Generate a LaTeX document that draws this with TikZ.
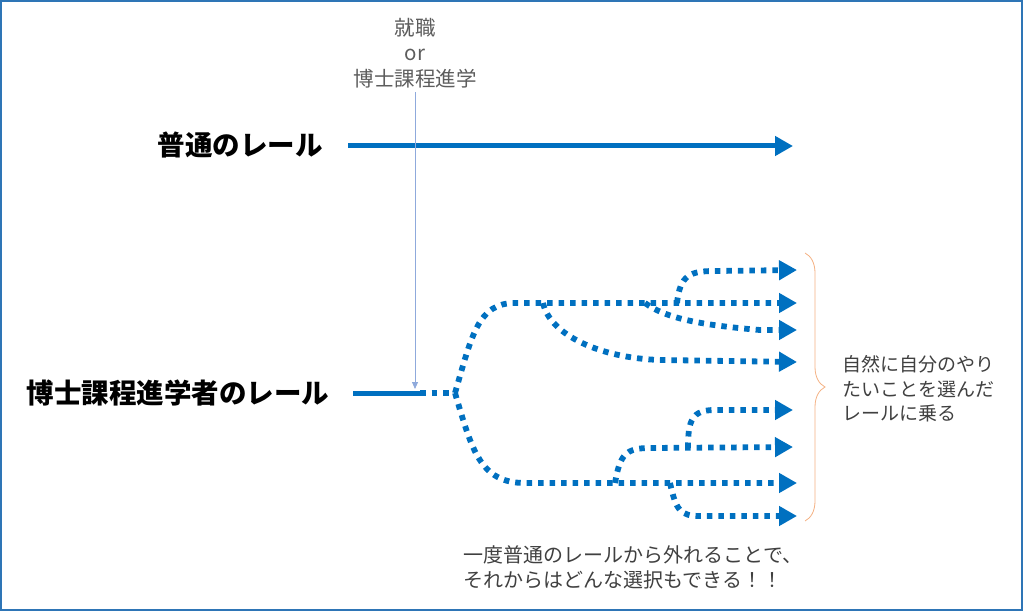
\documentclass[tikz,border=0pt]{standalone}
\usepackage{fontspec}
\setmainfont{Noto Sans CJK JP}
\usetikzlibrary{arrows.meta, decorations.pathreplacing}
\definecolor{railblue}{HTML}{0070C0}
\definecolor{framecol}{HTML}{2E75B6}
\definecolor{pointer}{HTML}{8FAADC}
\definecolor{bracecol}{HTML}{F4B183}
\definecolor{textgray}{HTML}{404040}
\def\tiplen{18pt}
\tikzstyle{rail label}=[font=\fontsize{27.5}{32}\selectfont\bfseries, text=black]
\tikzstyle{note}=[font=\fontsize{19}{24.5}\selectfont, text=textgray, align=left, inner sep=0pt]
\tikzstyle{rail}=[railblue, line width=5pt, -{Triangle[length=\tiplen,width=19pt]}]
\tikzstyle{track}=[rail, line width=5.8pt, dash pattern=on 5.5pt off 6pt]
\tikzstyle{pointer line}=[pointer, line width=0.8pt, -{Triangle[length=7pt,width=6pt]}]
\tikzstyle{choice brace}=[bracecol, line width=0.8pt, decorate, decoration={brace, amplitude=20pt}]

\begin{document}
\begin{tikzpicture}[x=1pt, y=-1pt]
		\useasboundingbox (0,0) rectangle (1024,612);
		\draw[framecol, line width=2pt] (1,1) rectangle (1022,610);
		% labels
		\node[rail label] (normal) at (240,145) {普通のレール};
		\node[rail label] (phd) at (178,393) {博士課程進学者のレール};
		\node[note, align=center, text=textgray!85, font=\fontsize{20.5}{25.5}\selectfont] (choice) at (415,53) {就職\\or\\博士課程進学};
		\node[note, anchor=west] (free) at (842,389) {自然に自分のやり\\たいことを選んだ\\レールに乗る};
		\node[note, font=\fontsize{20}{25}\selectfont] (escape) at (633,567) {一度普通のレールから外れることで、\\それからはどんな選択もできる！！};
		% normal rail
		\coordinate (n-start) at (348,146);
		\coordinate (n-end) at (793,146);
		\draw[rail] (n-start) -- (n-end);
		% phd rail
		\coordinate (p-start) at (353,393);
		\coordinate (p-split) at (420,393);
		\coordinate (fork) at (455,393);
		\coordinate (drop) at (415,389);
		\draw[pointer line] ([yshift=-4pt]choice.south) -- (drop);
		\draw[rail, -] (p-start) -- (p-split);
		\draw[track, -] (p-split) -- (fork);
		% upper branches
		\coordinate (u-1) at (797,270);
		\coordinate (u-2) at (797,303);
		\coordinate (u-3) at (797,330);
		\coordinate (u-4) at (797,362);
		\draw[track] (fork) .. controls (472,335) and (478,303) .. (515,303) -- (u-2);
		\draw[track] (543,303) .. controls (550,335) and (600,358) .. (660,360) -- (u-4);
		\draw[track] (645,303) .. controls (665,318) and (700,325) .. (760,330) -- (u-3);
		\draw[track] (677,303) .. controls (680,275) and (690,271) .. (715,271) -- (u-1);
		% lower branches
		\coordinate (l-1) at (793,410);
		\coordinate (l-2) at (793,447);
		\coordinate (l-3) at (797,483);
		\coordinate (l-4) at (797,516);
		\draw[track] (fork) .. controls (472,450) and (480,483) .. (525,483) -- (l-3);
		\draw[track] (615,483) .. controls (620,455) and (625,448) .. (650,448) -- (l-2);
		\draw[track] (688,448) .. controls (688,420) and (692,410) .. (715,410) -- (l-1);
		\draw[track] (670,483) .. controls (676,510) and (680,516) .. (700,516) -- (l-4);
		% brace
		\coordinate (b-top) at (805,253);
		\coordinate (b-bot) at (805,521);
		\draw[choice brace] (b-top) -- (b-bot);
	\end{tikzpicture}
\end{document}
